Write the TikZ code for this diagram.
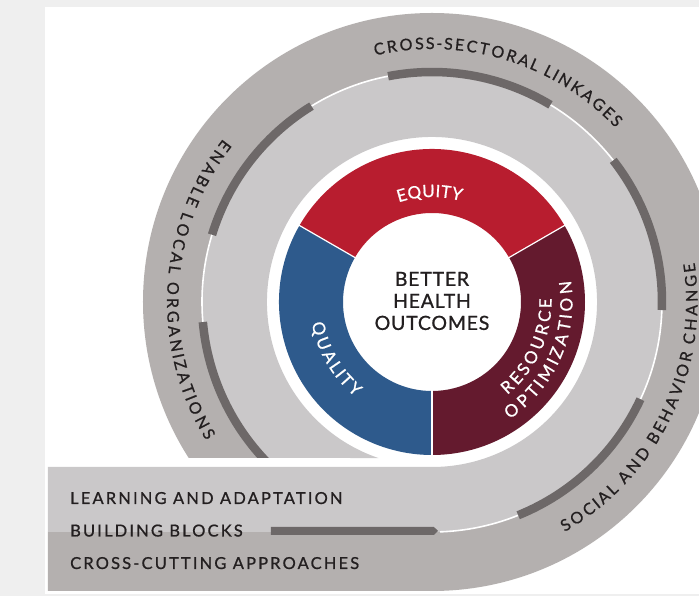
\documentclass[tikz,border=0pt]{standalone}
\usepackage{fontspec}
\setmainfont{Lato}
\newfontfamily\labelfam{Lato}[FakeBold=0.9]
\usetikzlibrary{decorations.text}

\definecolor{pagegray}{HTML}{EFEFEF}
\definecolor{outerband}{HTML}{B4B0AF}
\definecolor{innerband}{HTML}{CAC8C9}
\definecolor{segdark}{HTML}{6D6868}
\definecolor{eqred}{HTML}{B81D2F}
\definecolor{qblue}{HTML}{2E5A8C}
\definecolor{resmaroon}{HTML}{641A2E}
\definecolor{inkc}{HTML}{231F20}

\newcommand\bandfont{\labelfam\fontsize{16}{19}\selectfont}
\newcommand\stripfont{\labelfam\fontsize{16.5}{19}\selectfont\addfontfeature{LetterSpace=13}}
\newcommand\ringfont{\labelfam\fontsize{17}{20}\selectfont}
\newcommand\corefont{\labelfam\fontsize{19.5}{22}\selectfont\addfontfeature{LetterSpace=4}}

\begin{document}
\begin{tikzpicture}[x=1pt,y=1pt,
  seg/.style={draw=segdark,line width=8.5pt},
  sepline/.style={draw=white,line width=1.6pt},
  divider/.style={draw=white,line width=1.2pt},
  bandlabel/.style={anchor=base west,inner sep=0pt,text=inkc,font=\stripfont},
  outertxt/.style={decorate,decoration={text effects along path,text={#1},
    text effects/.cd,text along path,fit text to path,
    characters={text=inkc,font=\bandfont}}},
  ringtext/.style={decorate,decoration={text effects along path,text={#1},
    text effects/.cd,text along path,fit text to path,
    characters={text=white,font=\ringfont}}}]

\useasboundingbox (-432,-294) rectangle (267,302);
\fill[pagegray] (-432,-294) rectangle (267,302);
\fill[white] (-387,-292) rectangle (267,295);

% outer band: ring from the left cut round to the bottom, then straight to the left
\fill[outerband] (-384,-289) -- (0,-289) arc (-90:212.67:289)
  -- (222.7:230) arc (222.7:-90:230) -- (-384,-230) -- cycle;
% inner band
\fill[innerband] (-384,-230) -- (0,-230) arc (-90:222.7:230)
  -- (251:165) arc (251:-90:165) -- (-384,-165) -- cycle;

% boundary between the bands with its dark segments
\begin{scope}
  \clip (-432,-156) rectangle (267,302) (0,-294) rectangle (267,-156);
  \draw[sepline] (-88:230) arc (-88:224:230);
  \draw[seg] (185:230) arc (185:226:230);
\end{scope}
\draw[seg] (101:230) arc (101:59:230);
\draw[seg] (38:230) arc (38:-2:230);
\draw[seg] (-25:230) arc (-25:-68:230);
\draw[seg] (121.6:230) arc (121.6:163:230);
\fill[segdark] (-161,-225) -- (2,-225) -- (6,-229) -- (2,-233) -- (-161,-233) -- cycle;

% central ring
\fill[eqred] (30:153) arc (30:150:153) -- (150:89) arc (150:30:89) -- cycle;
\fill[qblue] (150:153) arc (150:270:153) -- (270:89) arc (270:150:89) -- cycle;
\fill[resmaroon] (270:153) arc (270:390:153) -- (30:89) arc (30:-90:89) -- cycle;
\draw[divider] (30:88) -- (30:154);
\draw[divider] (150:88) -- (150:154);
\draw[divider] (270:88) -- (270:154);

\node[font=\corefont,text=inkc,align=center] (core) at (0,1) {BETTER\\HEALTH\\OUTCOMES};

% ring labels
\path[ringtext={EQUITY}] (108.5:105) arc (108.5:74:105);
\path[ringtext={QUALITY}] (190:122) arc (190:231:122);
\path[ringtext={RESOURCE}] (-51:119.5) arc (-51:1.7:119.5);
\path[ringtext={OPTIMIZATION}] (-56.5:140.5) arc (-56.5:8.8:140.5);

% outer band labels
\path[outertxt={CROSS-SECTORAL LINKAGES}] (103:253) arc (103:43.5:253);
\path[outertxt={ENABLE LOCAL ORGANIZATIONS}] (142:265) arc (142:211.5:265);
\path[outertxt={SOCIAL AND BEHAVIOR CHANGE}] (-60:265.5) arc (-60:8.5:265.5);

% straight band labels
\node[bandlabel] (learn) at (-362,-202) {LEARNING AND ADAPTATION};
\node[bandlabel] (blocks) at (-362,-234.5) {BUILDING BLOCKS};
\node[bandlabel] (cross) at (-362,-267) {CROSS-CUTTING APPROACHES};
\end{tikzpicture}
\end{document}
